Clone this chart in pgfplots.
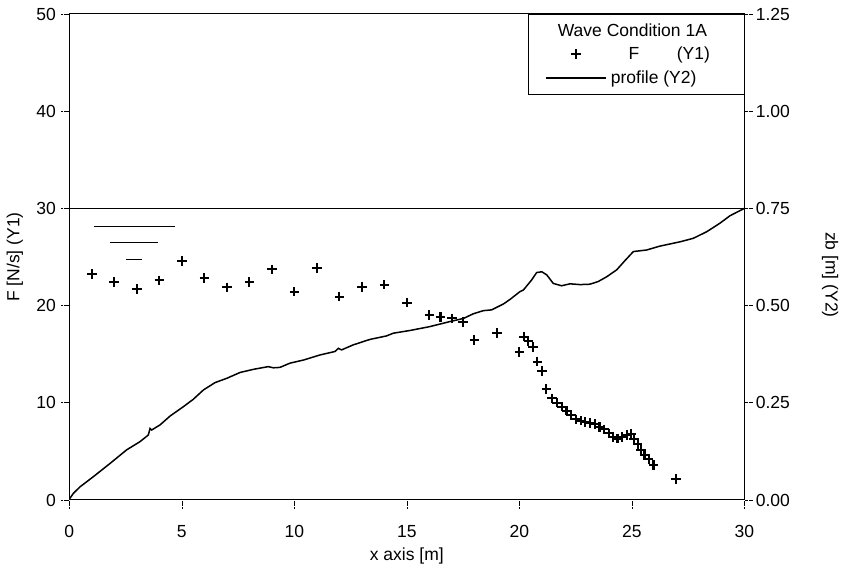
\documentclass[border=0pt]{standalone}
\usepackage{fontspec}
\setmainfont{Liberation Sans}
\usepackage{pgfplots}
\usepackage{pgfplotstable}
\pgfplotsset{compat=1.18}

% F (Y1) measured flux points
\pgfplotstableread{
x F
1 23.25
2 22.43
3 21.71
4 22.60
5 24.59
6 22.84
7 21.88
8 22.43
9 23.73
10 21.43
11 23.84
12 20.92
13 21.94
14 22.15
15 20.30
16.0 19.03
16.5 18.83
17.0 18.69
17.5 18.34
18.0 16.49
19.0 17.15
20.0 15.20
20.2 16.80
20.4 16.36
20.6 15.77
20.8 14.23
21.0 13.27
21.2 11.42
21.44 10.46
21.66 10.01
21.88 9.60
22.10 9.19
22.30 8.74
22.52 8.30
22.74 8.16
22.93 8.02
23.14 7.95
23.36 7.79
23.56 7.54
23.78 7.27
23.99 6.86
24.18 6.51
24.36 6.31
24.56 6.51
24.77 6.69
24.96 6.79
25.11 6.31
25.26 5.73
25.40 5.14
25.56 4.66
25.75 4.19
25.96 3.60
26.96 2.19
}\fluxdata

% bed profile zb (Y2)
\pgfplotstableread{
x zb
0.00 0.002
0.18 0.017
0.48 0.034
1.07 0.060
1.81 0.094
2.55 0.129
3.14 0.150
3.51 0.167
3.59 0.184
3.66 0.180
4.03 0.193
4.48 0.216
5.07 0.240
5.51 0.259
5.96 0.283
6.48 0.302
7.00 0.313
7.59 0.328
8.18 0.336
8.84 0.343
9.07 0.340
9.36 0.341
9.81 0.352
10.41 0.360
11.14 0.373
11.81 0.382
11.96 0.390
12.10 0.386
12.62 0.399
13.36 0.413
14.10 0.422
14.40 0.429
15.14 0.436
16.03 0.446
16.92 0.459
17.52 0.467
17.96 0.479
18.40 0.487
18.77 0.489
19.29 0.504
19.59 0.516
20.03 0.536
20.18 0.540
20.55 0.566
20.77 0.585
21.00 0.587
21.22 0.579
21.51 0.557
21.88 0.551
22.25 0.556
22.70 0.554
23.14 0.555
23.51 0.562
23.88 0.574
24.33 0.592
24.70 0.616
25.07 0.639
25.66 0.643
26.25 0.653
27.14 0.664
27.73 0.673
28.33 0.690
28.92 0.712
29.36 0.731
30.00 0.750
}\profiledata

\pgfplotsset{
  base/.style={
    scale only axis, width=675pt, height=486pt,
    at={(0,0)}, anchor=south west,
    xmin=0, xmax=30,
    tick align=outside, major tick length=8pt,
    tick style={black, densely dotted, line width=0.6pt},
    axis line style={black, line width=1pt},
    /pgf/number format/assume math mode=true,
    tick label style={font=\fontsize{17.5}{20}\selectfont},
    label style={font=\fontsize{17.5}{20}\selectfont},
  },
}

\begin{document}
\begin{tikzpicture}
\path[use as bounding box] (-69.3pt,-69pt) rectangle (773.7pt,500pt);

\begin{axis}[base,
  ymin=0, ymax=50,
  xtick={0,5,...,30}, ytick={0,10,...,50},
  xtick pos=bottom, ytick pos=left,
  xticklabel style={yshift=-14pt},
  yticklabel style={xshift=-2pt},
  xlabel={x axis [m]}, ylabel={F [N/s] (Y1)},
  xlabel style={at={(axis description cs:0.5,-0.115)}, anchor=center},
  ylabel style={at={(axis description cs:-0.0805,0.5)}, anchor=center},
]
\addplot[only marks, mark=+, mark size=4.8pt, line width=2.2pt, black] table[x=x, y=F] {\fluxdata};
% water level symbol
\addplot[black, line width=0.9pt, forget plot] coordinates {(1.08,28.1) (4.70,28.1)};
\addplot[black, line width=0.9pt, forget plot] coordinates {(1.81,26.47) (3.96,26.47)};
\addplot[black, line width=0.9pt, forget plot] coordinates {(2.52,24.76) (3.23,24.76)};
\end{axis}

\begin{axis}[base,
  ymin=0, ymax=1.25,
  ytick={0,0.25,...,1.25},
  axis x line=none, axis y line*=right,
  yticklabel style={/pgf/number format/.cd, fixed, fixed zerofill, precision=2},
  ylabel={zb [m] (Y2)},
  every axis y label/.style={at={(axis description cs:1.127,0.463)}, rotate=-90, anchor=center,
    font=\fontsize{17.5}{20}\selectfont},
  legend style={at={(1,1)}, anchor=north east, draw=black, line width=0.8pt,
    font=\fontsize{17.5}{20}\selectfont, inner xsep=17pt, inner ysep=7pt,
    row sep=5.5pt, cells={anchor=west}, nodes={inner xsep=4pt}},
]
\addlegendimage{empty legend}
\addlegendentry{\hspace*{-53pt}Wave Condition 1A}
\addlegendimage{black, line width=2.2pt, legend image code/.code={\draw[mark=+, mark size=4.8pt] plot[only marks] coordinates {(30pt,0pt)};}}
\addlegendentry{\hspace*{17.7pt}F\hspace*{37.6pt}(Y1)\hspace*{13pt}}
\addlegendimage{black, line width=1.4pt, legend image code/.code={\draw (0pt,0pt) -- (60pt,0pt);}}
\addlegendentry{profile (Y2)}
\addplot[black, line width=1.5pt, forget plot] table[x=x, y=zb] {\profiledata};
\addplot[black, line width=1pt, forget plot] coordinates {(0,0.75) (30,0.75)};
\end{axis}
\end{tikzpicture}
\end{document}
